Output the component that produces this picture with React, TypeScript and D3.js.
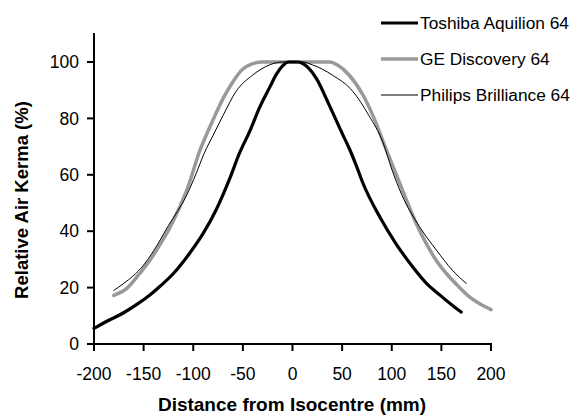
import React from "react";
import * as d3 from "d3";

const xTicks = [-200, -150, -100, -50, 0, 50, 100, 150, 200];
const yTicks = [0, 20, 40, 60, 80, 100];

const seriesNames = ["Toshiba Aquilion 64", "GE Discovery 64", "Philips Brilliance 64"];

const toshibaX = [-200, -188, -171, -155, -144, -134, -120, -104, -90, -77, -64, -53, -43, -33, -23, -16, -10, -4, 6, 11, 24, 37, 51, 57, 64, 71, 88, 104, 121, 135, 148, 160, 170];
const toshibaY = [5.5, 7.9, 10.9, 14.5, 17.3, 20.3, 25, 32, 39.2, 47.5, 58, 68, 75.5, 84, 91, 95.8, 98.6, 100, 100, 99.3, 94.2, 84.7, 74, 69.5, 63.5, 57, 45, 35.7, 27.4, 21.5, 17.5, 14, 11.3];

const geX = [-180, -167, -154, -144, -134, -124, -117, -104, -94, -87, -80, -70, -60, -50, -43, -30, 38, 45, 57, 71, 81, 94, 108, 116, 125, 135, 145, 155, 167, 178, 190, 200];
const geY = [17.2, 19.7, 25, 29.5, 35, 41, 46, 57, 68, 74, 79.5, 87, 93, 97.5, 99, 100, 100, 99, 95.4, 88.3, 81, 69.4, 57, 50, 42.5, 35.5, 29.5, 25, 20.5, 16.8, 14, 12.2];

const philipsX = [-180, -170, -161, -150, -140, -125, -107, -97, -89, -80, -70, -57, -40, -23, -10, 10, 20, 40, 61, 77, 91, 100, 110, 128, 145, 161, 175];
const philipsY = [19, 21.5, 24, 28, 33, 42, 52.5, 60.5, 67.6, 74, 81, 89.5, 95.4, 99, 100, 100, 99, 95.4, 89.5, 81, 71.6, 62, 53, 41.6, 33.3, 26.2, 21.5];

const W = 573;
const H = 420;
const font = "'Liberation Sans', Arial, sans-serif";

export default function App() {
  const x = d3.scaleLinear().domain([-200, 200]).range([94, 491]);
  const y = d3.scaleLinear().domain([0, 100]).range([344, 62]);
  const yTop = 33;

  const series = [
    { name: seriesNames[1], xs: geX, ys: geY, color: "#999999", width: 3.5 },
    { name: seriesNames[0], xs: toshibaX, ys: toshibaY, color: "#000000", width: 3.2 },
    { name: seriesNames[2], xs: philipsX, ys: philipsY, color: "#000000", width: 1 },
  ];
  const legendOrder = [series[1], series[0], series[2]];

  const line = d3
    .line<[number, number]>()
    .x((d) => x(d[0]))
    .y((d) => y(d[1]))
    .curve(d3.curveMonotoneX);

  return (
    <svg width={W} height={H} style={{ position: "absolute", left: 0, top: 0, background: "#fff" }}>
      <rect width={W} height={H} fill="#fff" />
      {series.map((s) => (
        <path
          key={s.name}
          d={line(s.xs.map((v, i) => [v, s.ys[i]] as [number, number])) || ""}
          fill="none"
          stroke={s.color}
          strokeWidth={s.width}
          strokeLinejoin="round"
          strokeLinecap="round"
        />
      ))}
      <line x1={94} x2={94} y1={yTop} y2={344} stroke="#000" strokeWidth={2} />
      <line x1={93} x2={492} y1={344} y2={344} stroke="#000" strokeWidth={2} />
      {yTicks.map((t) => (
        <g key={"y" + t}>
          <line x1={87} x2={94} y1={y(t)} y2={y(t)} stroke="#000" strokeWidth={2} />
          <text x={79} y={y(t)} dy="0.35em" textAnchor="end" fontFamily={font} fontSize={17.5} fill="#000">
            {t}
          </text>
        </g>
      ))}
      {xTicks.map((t) => (
        <g key={"x" + t}>
          <line x1={x(t)} x2={x(t)} y1={344} y2={351} stroke="#000" strokeWidth={2} />
          <text x={x(t)} y={380} textAnchor="middle" fontFamily={font} fontSize={17.5} fill="#000">
            {t}
          </text>
        </g>
      ))}
      <text x={292} y={411} textAnchor="middle" fontFamily={font} fontSize={19} fontWeight="bold" fill="#000">
        Distance from Isocentre (mm)
      </text>
      <text
        transform="translate(28,200) rotate(-90)"
        textAnchor="middle"
        fontFamily={font}
        fontSize={18.5}
        fontWeight="bold"
        fill="#000"
      >
        Relative Air Kerma (%)
      </text>
      {legendOrder.map((s, i) => {
        const ly = [23, 59, 95][i];
        return (
          <g key={"lg" + s.name}>
            <line x1={381} x2={418} y1={ly} y2={ly} stroke={s.color} strokeWidth={s.width} />
            <text x={420} y={ly} dy="0.35em" fontFamily={font} fontSize={17.3} fill="#000">
              {s.name}
            </text>
          </g>
        );
      })}
    </svg>
  );
}
